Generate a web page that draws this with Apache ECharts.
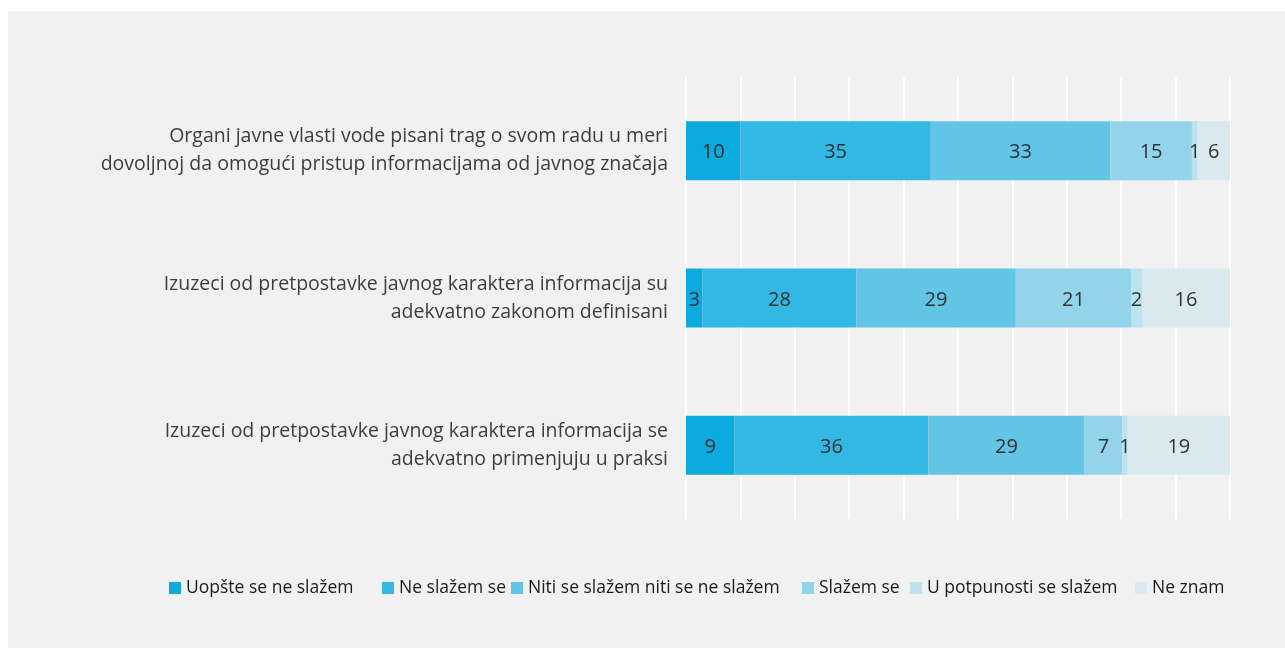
<!DOCTYPE html>
<html>
<head>
<meta charset="utf-8">
<script src="https://cdn.jsdelivr.net/npm/echarts@6/dist/echarts.min.js"></script>
<style>
  html, body { margin: 0; padding: 0; background: #ffffff; }
  #chart { position: absolute; left: 8px; top: 11px; width: 1277px; height: 637px; }
</style>
</head>
<body>
<div id="chart"></div>
<script>
  // pitanja (kategorije)
  let categories = [
    'Organi javne vlasti vode pisani trag o svom radu u meri\ndovoljnoj da omogući pristup informacijama od javnog značaja',
    'Izuzeci od pretpostavke javnog karaktera informacija su\nadekvatno zakonom definisani',
    'Izuzeci od pretpostavke javnog karaktera informacija se\nadekvatno primenjuju u praksi'
  ];
  let seriesNames = ['Uopšte se ne slažem', 'Ne slažem se', 'Niti se slažem niti se ne slažem', 'Slažem se', 'U potpunosti se slažem', 'Ne znam'];
  let uopsteNe = [10, 3, 9];
  let neSlazem = [35, 28, 36];
  let niti = [33, 29, 29];
  let slazem = [15, 21, 7];
  let potpuno = [1, 2, 1];
  let neZnam = [6, 16, 19];
  let values = [uopsteNe, neSlazem, niti, slazem, potpuno, neZnam];

  let colors = ['#00a5db', '#27b4e1', '#5bc2e4', '#8ed2ea', '#b6e0ee', '#d8e8ef'];
  let legendLeft = [156, 369, 498, 789, 897, 1122];

  // 100% stacked: svaki red se normalizuje na zbir
  let rowSum = categories.map((c, i) => values.reduce((s, arr) => s + arr[i], 0));

  let chart = echarts.init(document.getElementById('chart'));
  chart.setOption({
    backgroundColor: '#f1f1f1',
    animation: false,
    textStyle: { fontFamily: 'Open Sans' },
    legend: seriesNames.map((name, i) => ({
      data: [name],
      left: legendLeft[i],
      top: 563,
      itemWidth: 12,
      itemHeight: 12,
      itemGap: 0,
      icon: 'rect',
      textStyle: { fontSize: 17.5, color: '#1a1a1a', fontFamily: 'Open Sans' }
    })),
    grid: { left: 678, right: 55, top: 66, bottom: 129, containLabel: false },
    xAxis: {
      type: 'value',
      min: 0,
      max: 100,
      interval: 10,
      axisLabel: { show: false },
      axisLine: { show: false },
      axisTick: { show: false },
      splitLine: { show: true, lineStyle: { color: '#ffffff', width: 2 } }
    },
    yAxis: {
      type: 'category',
      inverse: true,
      data: categories,
      axisLine: { show: false },
      axisTick: { show: false },
      axisLabel: {
        margin: 18,
        align: 'right',
        fontSize: 19.5,
        lineHeight: 28,
        color: '#3d3d3d',
        fontFamily: 'Open Sans'
      }
    },
    series: seriesNames.map((name, k) => ({
      name: name,
      type: 'bar',
      stack: 'total',
      barWidth: 59,
      itemStyle: { color: colors[k], opacity: 0.95 },
      label: {
        show: true,
        position: 'inside',
        fontSize: 20,
        color: '#2a2a2a',
        fontFamily: 'Open Sans',
        offset: [0, 2],
        formatter: p => values[k][p.dataIndex]
      },
      data: values[k].map((v, i) => v / rowSum[i] * 100)
    }))
  });
</script>
</body>
</html>
